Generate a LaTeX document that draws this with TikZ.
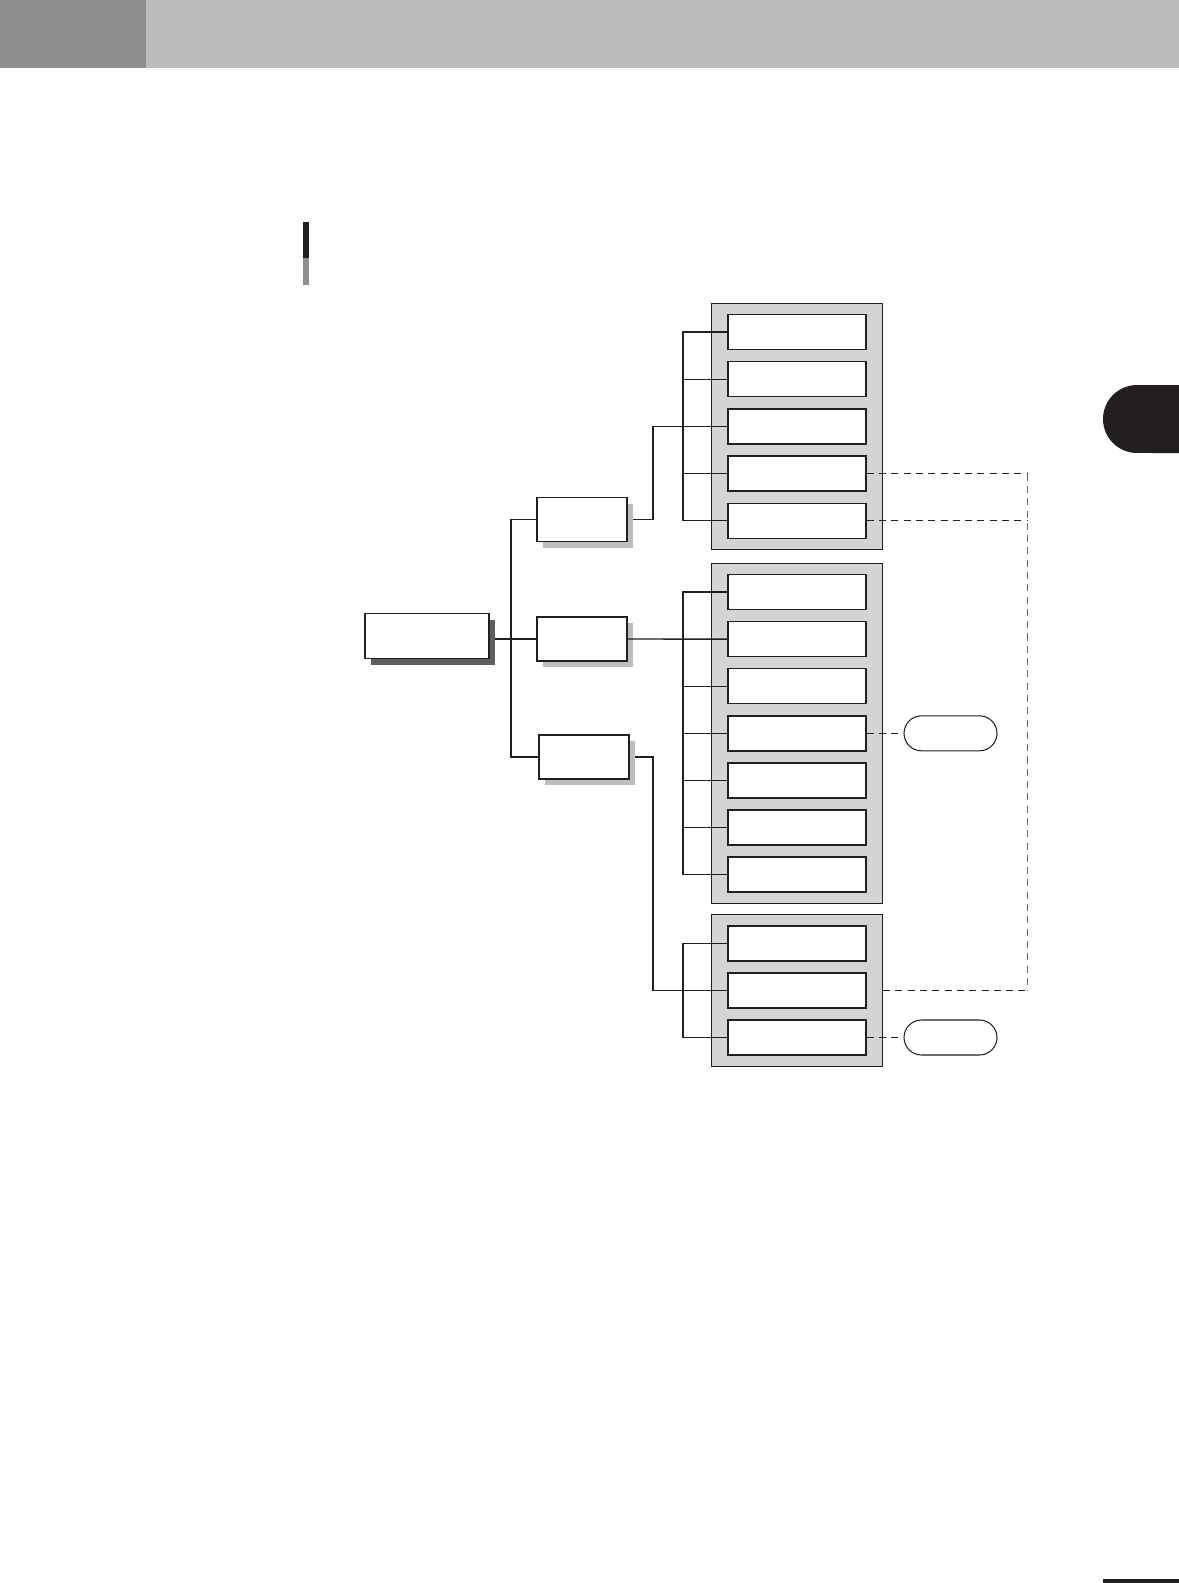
\documentclass[tikz,border=0pt]{standalone}
\usetikzlibrary{positioning,fit,shapes.misc,shadows,backgrounds}
\definecolor{hdrlight}{HTML}{BCBCBC}
\definecolor{hdrdark}{HTML}{8F8D8E}
\definecolor{panelgray}{HTML}{D4D4D4}
\definecolor{shadowdark}{HTML}{5F5D5E}
\definecolor{shadowlight}{HTML}{BDBDBD}
\definecolor{inkdark}{HTML}{231F20}
\begin{document}
\begin{tikzpicture}[x=0.02cm,y=-0.02cm,
  leaf/.style={draw=inkdark, line width=0.85pt, fill=white, inner sep=0pt,
    minimum width=2.76cm, minimum height=0.7cm},
  branch/.style={draw=inkdark, line width=0.8pt, fill=white, inner sep=0pt,
    minimum width=1.8cm, minimum height=0.88cm,
    drop shadow={shadow xshift=0.12cm, shadow yshift=-0.12cm, fill=shadowlight, opacity=1}},
  rootbox/.style={draw=inkdark, line width=1.1pt, fill=white, inner sep=0pt,
    minimum width=2.48cm, minimum height=0.9cm,
    drop shadow={shadow xshift=0.12cm, shadow yshift=-0.12cm, fill=shadowdark, opacity=1}},
  panel/.style={draw=inkdark, line width=0.45pt, fill=panelgray, inner xsep=0.32cm, inner ysep=0.21cm},
  pill/.style={rounded rectangle, draw=inkdark, line width=0.6pt, fill=white, inner sep=0pt,
    minimum width=1.86cm, minimum height=0.7cm},
  link/.style={draw=inkdark, line width=0.6pt},
  dashlink/.style={draw=inkdark, line width=0.45pt, dash pattern=on 4pt off 3pt}]
\useasboundingbox (0,0) rectangle (1179,1583);

% page decorations
\fill[hdrlight] (0,0) rectangle (1179,68);
\fill[hdrdark] (0,0) rectangle (146,68);
\fill[inkdark] (303,222) rectangle (309,258);
\fill[hdrdark] (303,258) rectangle (309,285);
\fill[inkdark] (1179,385) -- (1137,385) arc[start angle=90, end angle=270, radius=0.68cm] -- (1179,453) -- cycle;
\fill[inkdark] (1103,1579) rectangle (1179,1583);

% tree
\node[rootbox] (root) at (427,636) {};
\node[branch] (m1) at (582,519.5) {};
\node[branch] (m2) at (582,639) {};
\node[branch] (m3) at (584,757) {};

\foreach \i in {1,...,5}
  \node[leaf] (a\i) at (797,{332+47.2*(\i-1)}) {};
\foreach \i in {1,...,7}
  \node[leaf] (b\i) at (797,{592+47.1*(\i-1)}) {};
\foreach \i in {1,...,3}
  \node[leaf] (c\i) at (797,{943.5+47*(\i-1)}) {};

\node[pill] (s1) at (950.5,733.3) {};
\node[pill] (s2) at (950.5,1037.5) {};

\coordinate (tk) at (511,0);
\coordinate (j1) at (653,0);
\coordinate (cb) at (683,0);
\coordinate (dk) at (1027,0);

\begin{scope}[on background layer]
\node[panel, fit=(a1)(a5)] (p1) {};
\node[panel, fit=(b1)(b7)] (p2) {};
\node[panel, fit=(c1)(c3)] (p3) {};

\draw[link] (root.east |- m2.west) -- (m2.west);
\draw[link] (m1.west) -- (m1.west -| tk) |- (m3.west);
\draw[link] (m1.east) -- (m1.east -| j1) |- (a3.west);
\draw[link] (m3.east) -- (m3.east -| j1) |- (c2.west);

% combs
\draw[link] (a1.west) -- (a1.west -| cb) |- (a5.west);
\foreach \i in {2,3,4}
  \draw[link] (a\i.west) -- (a\i.west -| cb);
\draw[link] (b1.west) -- (b1.west -| cb) |- (b7.west);
\foreach \i in {3,...,6}
  \draw[link] (b\i.west) -- (b\i.west -| cb);
\draw[link] (c1.west) -- (c1.west -| cb) |- (c3.west);
\end{scope}
\draw[link, line width=0.8pt] (m2.east) -- (b2.west);

% dashed links
\draw[dashlink] (a4.east) -- (a4.east -| dk);
\draw[dashlink] (a5.east) -- (a5.east -| dk);
\draw[dashlink] (p3.east |- c2.west) -- (c2.west -| dk);
\draw[dashlink, draw=black!60] (a4.east -| dk) -- (c2.west -| dk);
\draw[dashlink] (b4.east) -- (s1.west);
\draw[dashlink] (c3.east) -- (s2.west);
\end{tikzpicture}
\end{document}
